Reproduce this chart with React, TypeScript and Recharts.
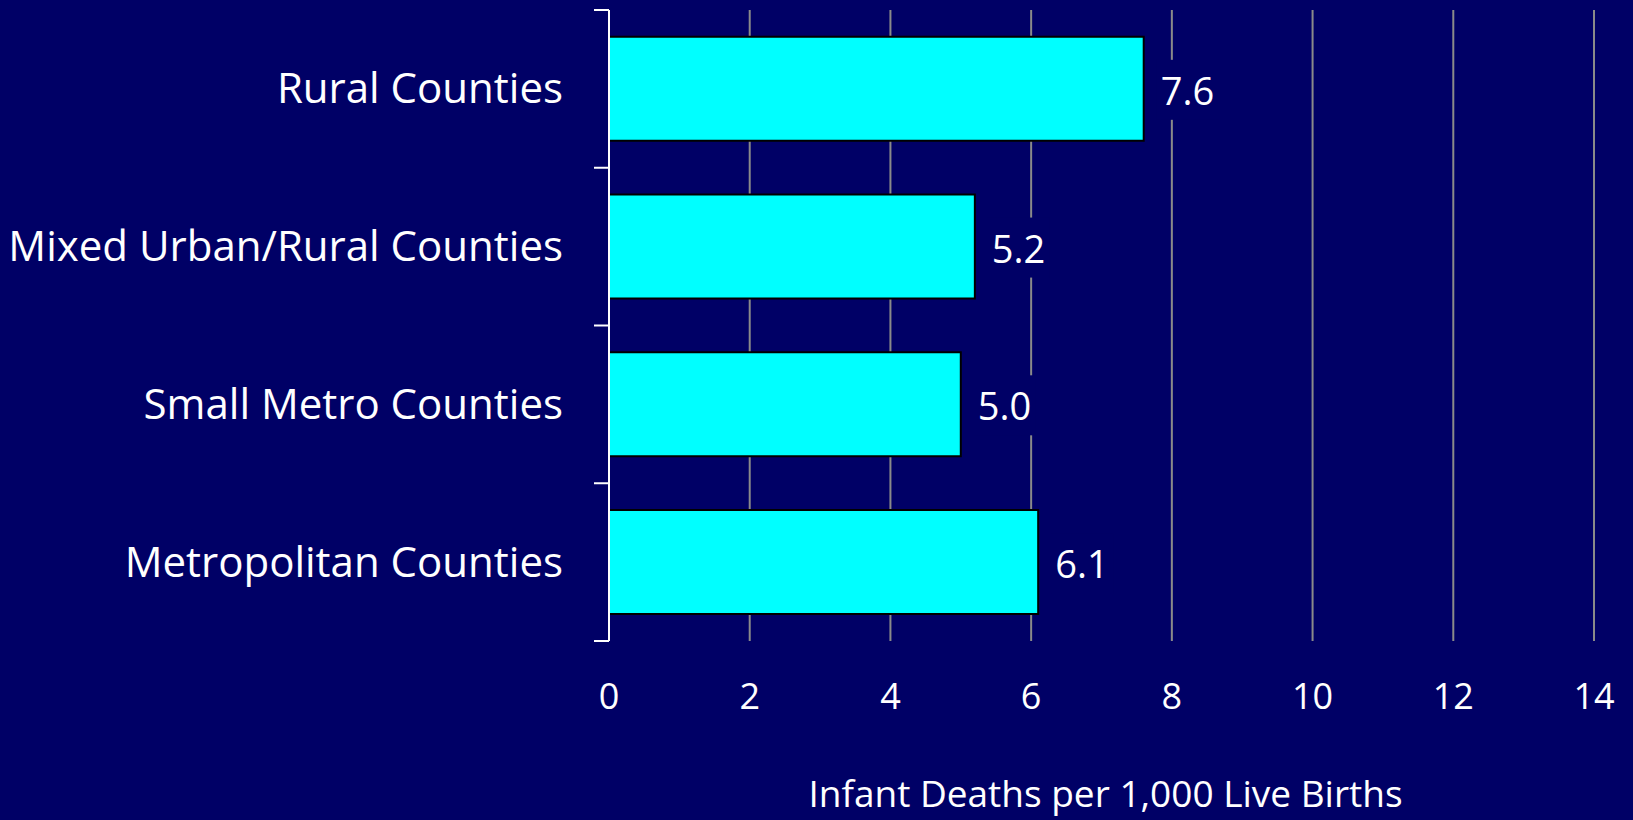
import React from 'react';
import { BarChart, Bar, XAxis, YAxis, CartesianGrid, LabelList } from 'recharts';

const categories = ['Rural Counties', 'Mixed Urban/Rural Counties', 'Small Metro Counties', 'Metropolitan Counties'];
const rates = [7.6, 5.2, 5.0, 6.1];
const xTicks = [0, 2, 4, 6, 8, 10, 12, 14];
const xTitle = 'Infant Deaths per 1,000 Live Births';

const data = categories.map((c, i) => ({ name: c, value: rates[i] }));

const W = 1633;
const H = 820;
const TOP = 10;
const XAXIS_H = 179;
const BG = '#000066';
const FONT = '"Open Sans", sans-serif';
const BAND = (H - TOP - XAXIS_H) / categories.length;

const YTick = (props: any) => {
  const { x, y, payload, index } = props;
  const ax = x;
  return (
    <g>
      <line x1={ax - 15} x2={ax} y1={y - BAND / 2} y2={y - BAND / 2} stroke="#fff" strokeWidth={2} />
      {index === categories.length - 1 && (
        <line x1={ax - 15} x2={ax} y1={y + BAND / 2} y2={y + BAND / 2} stroke="#fff" strokeWidth={2} />
      )}
      <text x={ax - 46} y={y - 2} textAnchor="end" dominantBaseline="central" fill="#fff" fontSize={42} fontFamily={FONT}>
        {payload.value}
      </text>
    </g>
  );
};

const XTick = (props: any) => {
  const { x, y, payload } = props;
  return (
    <text x={x} y={y + 54} textAnchor="middle" dominantBaseline="central" fill="#fff" fontSize={36} fontFamily={FONT}>
      {payload.value}
    </text>
  );
};

const ValueLabel = (props: any) => {
  const { x, y, width, height, value } = props;
  const lx = x + width + 17;
  const cy = y + height / 2 + 1;
  const txt = Number(value).toFixed(1);
  return (
    <g>
      <rect x={lx - 4} y={cy - 30} width={62} height={60} fill={BG} />
      <text x={lx} y={cy} dominantBaseline="central" fill="#fff" fontSize={38} fontFamily={FONT}>
        {txt}
      </text>
    </g>
  );
};

const XTitle = (props: any) => {
  const vb = props.viewBox || {};
  return (
    <text x={vb.x + vb.width / 2 + 4} y={vb.y + 151} textAnchor="middle" dominantBaseline="central" fill="#fff" fontSize={37} fontFamily={FONT}>
      {xTitle}
    </text>
  );
};

export default function App() {
  return (
    <div style={{ position: 'absolute', left: 0, top: 0, width: W, height: H, background: BG }}>
      <BarChart
        width={W}
        height={H}
        data={data}
        layout="vertical"
        margin={{ top: TOP, right: 39, bottom: 0, left: 0 }}
        barCategoryGap="17%"
      >
        <CartesianGrid horizontal={false} vertical={true} stroke="#8a8a8a" strokeWidth={2} />
        <XAxis
          type="number"
          domain={[0, 14]}
          ticks={xTicks}
          interval={0}
          axisLine={false}
          tickLine={false}
          tickSize={0}
          tickMargin={0}
          height={XAXIS_H}
          tick={<XTick />}
          label={<XTitle />}
        />
        <YAxis
          type="category"
          dataKey="name"
          width={609}
          axisLine={{ stroke: '#fff', strokeWidth: 2 }}
          tickLine={false}
          tickSize={0}
          tickMargin={0}
          interval={0}
          tick={<YTick />}
        />
        <Bar dataKey="value" fill="#00FFFF" stroke="#000" strokeWidth={2} isAnimationActive={false}>
          <LabelList dataKey="value" content={<ValueLabel />} />
        </Bar>
      </BarChart>
    </div>
  );
}
